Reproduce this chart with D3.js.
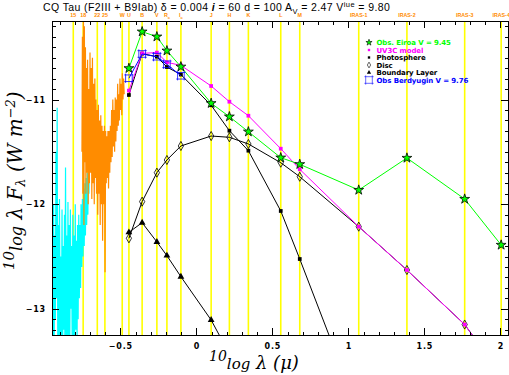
<!DOCTYPE html>
<html>
<head>
<meta charset="utf-8">
<title>CQ Tau SED</title>
<script src="https://d3js.org/d3.v7.min.js"></script>
<style>
body {
	margin: 0;
	background-color: white;
}
svg {
	display: block;
}
.axis line {
	stroke: black;
	stroke-width: 1;
	shape-rendering: crispEdges;
}
.axis text {
	font-family: "DejaVu Sans";
	font-size: 8px;
	font-weight: bold;
	letter-spacing: 0.8px;
	fill: black;
}
.band {
	stroke: #ffff00;
	stroke-width: 1.6;
}
.bandlabel {
	font-family: "Liberation Sans";
	font-size: 5.3px;
	font-weight: bold;
	fill: #ff8c00;
}
.legend text {
	font-family: "DejaVu Sans";
	font-size: 7px;
	font-weight: bold;
	letter-spacing: -0.1px;
}
.title {
	font-family: "Liberation Sans";
	font-size: 10.5px;
	letter-spacing: 0.4px;
	fill: black;
}
.axtitle {
	font-family: "DejaVu Serif";
	font-style: italic;
	fill: black;
}
</style>
<script>
/* globals d3, document, window */
(function() {
"use strict";

// photometric bands (top labels and yellow verticals), log10 lambda in micron
const bandNames = ["15", "18", "22", "25", "W", "U", "B", "V", "Rc", "Ic",
	"J", "H", "K", "L", "M", "IRAS-1", "IRAS-2", "IRAS-3", "IRAS-4"];
const bandLogLambda = [-0.81, -0.745, -0.652, -0.602, -0.488, -0.444, -0.357, -0.26, -0.194, -0.102,
	0.097, 0.217, 0.342, 0.555, 0.68, 1.068, 1.385, 1.765, 2.005];

// SED points, one value per band in sedBands (null = not plotted)
const sedBands = ["U", "B", "V", "Rc", "Ic", "J", "H", "K", "L", "M", "IRAS-1", "IRAS-2", "IRAS-3", "IRAS-4"];
const eiroaObs = [-10.702, -10.352, -10.40, -10.534, -10.687, -11.036, -11.164, -11.308, -11.556, -11.619,
	-11.865, -11.559, -11.951, -12.39];
const uv3cModel = [-10.915, -10.559, -10.552, -10.645, -10.674, -10.871, -11.021, -11.155, -11.47, -11.667,
	-12.215, -12.629, -13.15, -13.63];
const photosphere = [-10.957, -10.562, -10.591, -10.69, -10.762, -11.055, -11.298, -11.489, -12.065, -12.524,
	-13.99, null, null, null];
const disc = [-12.326, -11.976, -11.699, -11.578, -11.444, -11.349, -11.361, -11.425, -11.604, -11.738,
	-12.215, -12.629, -13.15, -13.63];
const boundaryLayer = [-12.269, -12.177, -12.361, -12.492, -12.693, -13.107, -13.43, null, null, null,
	null, null, null, null];
const berdyuginObs = [-10.797, -10.565, -10.591, -10.664, -10.773, null, null, null, null, null,
	null, null, null, null];

// IUE spectra [log lambda, log lambda F_lambda]
const iueShort = [
	[-0.947, -11.85], [-0.943, -13.4], [-0.939, -12.0], [-0.936, -13.4], [-0.932, -12.3],
	[-0.928, -13.1], [-0.924, -11.5], [-0.920, -12.9], [-0.916, -11.08], [-0.912, -13.4],
	[-0.908, -12.2], [-0.904, -13.4], [-0.901, -11.95], [-0.896, -13.3], [-0.892, -12.5],
	[-0.888, -13.4], [-0.884, -12.05], [-0.880, -13.4], [-0.876, -12.4], [-0.872, -13.2],
	[-0.868, -12.1], [-0.865, -13.4], [-0.861, -11.65], [-0.856, -13.4], [-0.853, -12.3],
	[-0.849, -13.4], [-0.845, -11.98], [-0.841, -13.3], [-0.837, -12.2], [-0.833, -13.4],
	[-0.829, -12.05], [-0.825, -13.0], [-0.821, -12.4], [-0.817, -13.4], [-0.813, -12.1],
	[-0.809, -13.4], [-0.805, -12.3], [-0.801, -13.4], [-0.797, -12.0], [-0.793, -13.2],
	[-0.789, -12.35], [-0.785, -13.4], [-0.782, -12.2], [-0.778, -13.1], [-0.774, -12.1],
	[-0.770, -12.9], [-0.767, -12.2], [-0.762, -12.8], [-0.759, -12.0], [-0.754, -12.6],
	[-0.750, -11.95], [-0.746, -12.5], [-0.742, -11.85], [-0.738, -12.4], [-0.734, -11.8],
	[-0.730, -12.3], [-0.726, -11.75], [-0.722, -12.2], [-0.718, -11.7], [-0.714, -12.1],
	[-0.711, -11.62], [-0.707, -11.9], [-0.704, -11.6]
];
const iueLong = [
	[-0.753, -11.5], [-0.750, -10.4], [-0.747, -11.9], [-0.743, -10.26], [-0.740, -12.2],
	[-0.737, -10.3], [-0.734, -11.6], [-0.730, -10.5], [-0.727, -11.9], [-0.724, -10.7],
	[-0.720, -11.7], [-0.716, -10.62], [-0.712, -12.0], [-0.708, -10.9], [-0.704, -11.8],
	[-0.700, -10.55], [-0.696, -11.7], [-0.692, -10.7], [-0.688, -11.95], [-0.684, -10.6],
	[-0.680, -11.8], [-0.676, -10.85], [-0.672, -12.0], [-0.668, -10.8], [-0.664, -11.75],
	[-0.661, -11.0], [-0.657, -11.9], [-0.653, -11.1], [-0.649, -12.1], [-0.645, -11.05],
	[-0.641, -11.9], [-0.637, -11.2], [-0.633, -12.2], [-0.629, -11.15], [-0.625, -12.0],
	[-0.621, -11.25], [-0.617, -12.35], [-0.613, -11.3], [-0.609, -12.0], [-0.605, -11.25],
	[-0.601, -12.65], [-0.597, -11.3], [-0.593, -11.8], [-0.589, -11.35], [-0.586, -11.75],
	[-0.582, -11.3], [-0.578, -11.85], [-0.574, -11.3], [-0.570, -11.7], [-0.566, -11.25],
	[-0.562, -11.6], [-0.558, -11.1], [-0.554, -11.55], [-0.550, -11.0], [-0.546, -11.45],
	[-0.542, -11.1], [-0.538, -11.5], [-0.534, -10.98], [-0.530, -11.4], [-0.526, -11.0],
	[-0.522, -11.3], [-0.518, -10.85], [-0.514, -11.25], [-0.511, -10.95], [-0.507, -11.2],
	[-0.503, -10.8], [-0.499, -11.1], [-0.495, -10.85], [-0.491, -11.15], [-0.487, -10.75],
	[-0.483, -11.0], [-0.479, -10.8], [-0.475, -10.95]
];

const legendLabels = ["Obs. Eiroa V = 9.45", "UV3C model", "Photosphere", "Disc", "Boundary Layer", "Obs Berdyugin V = 9.76"];

function hashSymbol()
{
	// open square with little overhangs, as drawn for the Berdyugin points
	return {
		draw(ctx) {
			const a = 3.3, b = 4.6;
			ctx.moveTo(-b, -a); ctx.lineTo(b, -a);
			ctx.moveTo(-b, a); ctx.lineTo(b, a);
			ctx.moveTo(-a, -b); ctx.lineTo(-a, b);
			ctx.moveTo(a, -b); ctx.lineTo(a, b);
		}
	};
}

function main()
{
	const width = 509, height = 375;
	const margin = {top: 21, left: 52, right: 1, bottom: 40};
	const w = width - margin.left - margin.right;
	const h = height - margin.top - margin.bottom;

	const xScale = d3.scaleLinear([-0.95, 2.05], [0, w]);
	const yScale = d3.scaleLinear([-13.25, -10.25], [h, 0]);

	const svg = d3.select("#graph")
		.append("svg")
			.attr("width", width)
			.attr("height", height);

	svg.append("defs").append("clipPath")
		.attr("id", "plotclip")
		.append("rect")
			.attr("width", w)
			.attr("height", h);

	const plot = svg.append("g")
		.attr("transform", "translate(" + margin.left + "," + margin.top + ")");

	// band verticals and labels
	plot.append("g").selectAll("line")
		.data(bandLogLambda)
		.join("line")
			.attr("class", "band")
			.attr("x1", d => xScale(d))
			.attr("x2", d => xScale(d))
			.attr("y1", 0)
			.attr("y2", h);

	const labels = plot.append("g").selectAll("text")
		.data(d3.zip(bandNames, bandLogLambda))
		.join("text")
			.attr("class", "bandlabel")
			.attr("x", ([, l]) => xScale(l))
			.attr("y", -4)
			.attr("text-anchor", "middle");
	labels.each(function([name]) {
		const t = d3.select(this);
		if (/^[RI]c$/.test(name)) {
			t.append("tspan").text(name.charAt(0));
			t.append("tspan").attr("dy", 2).style("font-size", "4px").text("c");
		} else {
			t.text(name);
		}
	});

	const inner = plot.append("g").attr("clip-path", "url(#plotclip)");

	// IUE spectra
	const specLine = d3.line(([l]) => xScale(l), ([, f]) => yScale(f));
	inner.append("path")
		.attr("d", specLine(iueShort))
		.attr("fill", "none")
		.attr("stroke", "#00ffff")
		.attr("stroke-width", 1.2);
	inner.append("path")
		.attr("d", specLine(iueLong))
		.attr("fill", "none")
		.attr("stroke", "#ff8c00")
		.attr("stroke-width", 1.2);

	const bandX = new Map(d3.zip(bandNames, bandLogLambda));
	const sedLambda = sedBands.map(b => bandX.get(b));

	const series = [
		{values: boundaryLayer, color: "black", symbol: d3.symbolTriangle, size: 20, fill: "black", stroke: "none"},
		{values: photosphere, color: "black", symbol: d3.symbolSquare, size: 14, fill: "black", stroke: "none"},
		{values: disc, color: "black", symbol: d3.symbolDiamond, size: 24, fill: "none", stroke: "black"},
		{values: uv3cModel, color: "#ff00ff", symbol: d3.symbolSquare, size: 14, fill: "#ff00ff", stroke: "none"},
		{values: eiroaObs, color: "#00ff00", symbol: d3.symbolStar, size: 30, fill: "#00ff00", stroke: "black"},
		{values: berdyuginObs, color: "#0000ff", symbol: hashSymbol(), size: 64, fill: "none", stroke: "#0000ff"}
	];

	const sedLine = d3.line()
		.defined(d => d[1] !== null)
		.x(d => xScale(d[0]))
		.y(d => yScale(d[1]));

	for (const s of series) {
		const pts = d3.zip(sedLambda, s.values);
		inner.append("path")
			.attr("d", sedLine(pts))
			.attr("fill", "none")
			.attr("stroke", s.color)
			.attr("stroke-width", 1);
		inner.append("g").selectAll("path")
			.data(pts.filter(d => d[1] !== null))
			.join("path")
				.attr("transform", d => "translate(" + xScale(d[0]) + "," + yScale(d[1]) + ")")
				.attr("d", d3.symbol(s.symbol, s.size))
				.attr("fill", s.fill)
				.attr("stroke", s.stroke)
				.attr("stroke-width", 0.8);
	}

	// axes, ticks pointing inward on all four sides
	const xMinor = xScale.ticks(30), xMajor = xScale.ticks(6);
	const yMinor = yScale.ticks(30), yMajor = yScale.ticks(3);
	const axes = [
		[d3.axisBottom(xScale).tickValues(xMinor).tickSize(-3.5).tickFormat(""), 0, h],
		[d3.axisBottom(xScale).tickValues(xMajor).tickSize(-7).tickPadding(8).tickFormat(d3.format("~g")), 0, h],
		[d3.axisTop(xScale).tickValues(xMinor).tickSize(-3.5).tickFormat(""), 0, 0],
		[d3.axisTop(xScale).tickValues(xMajor).tickSize(-7).tickFormat(""), 0, 0],
		[d3.axisLeft(yScale).tickValues(yMinor).tickSize(-3.5).tickFormat(""), 0, 0],
		[d3.axisLeft(yScale).tickValues(yMajor).tickSize(-7).tickPadding(6).tickFormat(d3.format("~g")), 0, 0],
		[d3.axisRight(yScale).tickValues(yMinor).tickSize(-3.5).tickFormat(""), w, 0],
		[d3.axisRight(yScale).tickValues(yMajor).tickSize(-7).tickFormat(""), w, 0]
	];
	for (const [axis, tx, ty] of axes) {
		const g = plot.append("g")
			.attr("class", "axis")
			.attr("transform", "translate(" + tx + "," + ty + ")")
			.call(axis);
		g.select(".domain").remove();
		g.selectAll("text").attr("font-family", null).attr("font-size", null);
	}

	plot.append("rect")
		.attr("width", w)
		.attr("height", h)
		.attr("fill", "none")
		.attr("stroke", "black")
		.attr("stroke-width", 1)
		.attr("shape-rendering", "crispEdges");

	// legend
	const legend = plot.append("g")
		.attr("class", "legend")
		.attr("transform", "translate(317,21.5)");
	const legendSeries = [series[4], series[3], series[1], series[2], series[0], series[5]];
	const legendColors = ["#00ff00", "#ff00ff", "black", "black", "black", "#0000ff"];
	legendSeries.forEach((s, i) => {
		const row = legend.append("g").attr("transform", "translate(0," + i * 7.5 + ")");
		row.append("path")
			.attr("d", d3.symbol(s.symbol, s.size * 0.4))
			.attr("fill", s.fill)
			.attr("stroke", s.stroke)
			.attr("stroke-width", 0.6);
		row.append("text")
			.attr("x", 7.5)
			.attr("y", 2.5)
			.attr("fill", legendColors[i])
			.text(legendLabels[i]);
	});

	// title
	const title = svg.append("text")
		.attr("class", "title")
		.attr("x", 43)
		.attr("y", 11);
	title.append("tspan").text("CQ Tau (F2III + B9Iab) \u03b4 = 0.004 ");
	title.append("tspan").style("font-style", "italic").style("font-weight", "bold").text("i");
	title.append("tspan").text(" = 60 d = 100 A");
	title.append("tspan").attr("dy", 2.5).style("font-size", "7.5px").text("V");
	title.append("tspan").attr("dy", -2.5).text(" = 2.47 V");
	title.append("tspan").attr("dy", -4).style("font-size", "7.5px").text("iue");
	title.append("tspan").attr("dy", 4).text(" = 9.80");

	// axis titles
	const xt = svg.append("text")
		.attr("class", "axtitle")
		.style("font-size", "18px")
		.attr("x", 209)
		.attr("y", 369);
	xt.append("tspan").attr("dy", -8).style("font-size", "14px").text("10");
	xt.append("tspan").attr("dy", 8).style("font-size", "15px").text("log");
	xt.append("tspan").text(" \u03bb (\u03bc)");

	const yt = svg.append("text")
		.attr("class", "axtitle")
		.style("font-size", "20px")
		.attr("transform", "translate(22,270) rotate(-90)");
	yt.append("tspan").attr("dy", -8).style("font-size", "15px").text("10");
	yt.append("tspan").attr("dy", 8).style("font-size", "16px").text("log");
	yt.append("tspan").text(" \u03bb F");
	yt.append("tspan").attr("dy", 3).style("font-size", "13px").text("\u03bb");
	yt.append("tspan").attr("dy", -3).text(" (W m");
	yt.append("tspan").attr("dy", -7).style("font-size", "13px").text("\u22122");
	yt.append("tspan").attr("dy", 7).text(")");
}
window.addEventListener("DOMContentLoaded", main);
})();
</script>
</head>
<body>
<div id="graph"></div>
</body>
</html>
